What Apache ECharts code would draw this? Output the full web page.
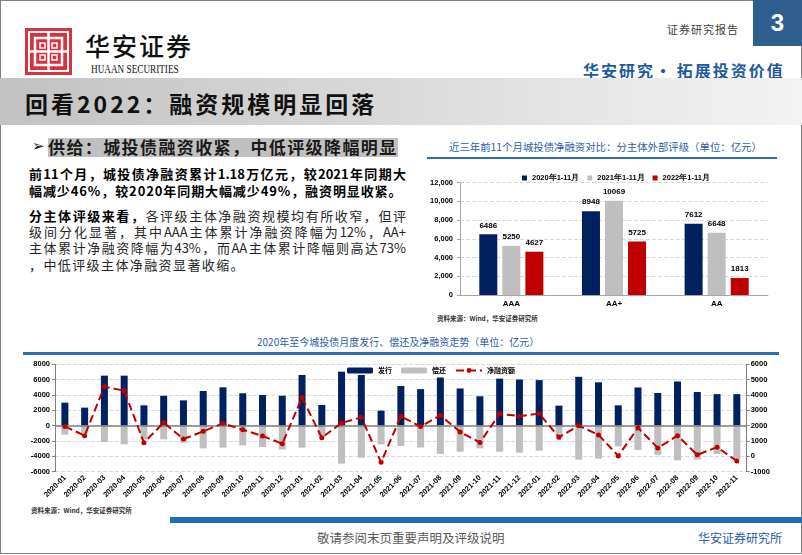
<!DOCTYPE html>
<html><head><meta charset="utf-8">
<script src="https://cdn.jsdelivr.net/npm/echarts@6/dist/echarts.min.js"></script>
<style>
html,body{margin:0;padding:0;width:802px;height:555px;overflow:hidden;background:#fff;font-family:"Noto Sans CJK SC",sans-serif;}
.abs{position:absolute;white-space:nowrap;}
.jl{position:absolute;left:29px;width:377px;text-align:justify;text-align-last:justify;white-space:nowrap;line-height:16px;}
#chart{position:absolute;left:0;top:0;width:802px;height:555px;}
</style></head><body>
<div class="abs" style="left:0;top:0;width:800px;height:552px;border:1px solid #808080;"></div>
<!-- header -->
<svg class="abs" style="left:25px;top:28px" width="47" height="47" viewBox="0 0 47 47">
  <rect x="0" y="0" width="47" height="47" fill="#D9313D"/>
  <rect x="4" y="4" width="39" height="39" fill="none" stroke="#fff" stroke-width="2"/>
  <rect x="10" y="10" width="27" height="27" fill="none" stroke="#fff" stroke-width="2.5"/>
  <line x1="23.5" y1="4" x2="23.5" y2="43" stroke="#fff" stroke-width="2.5"/>
  <line x1="4" y1="23.5" x2="43" y2="23.5" stroke="#fff" stroke-width="2.5"/>
  <rect x="15" y="15" width="5" height="5" fill="none" stroke="#fff" stroke-width="1.5"/>
  <rect x="27" y="15" width="5" height="5" fill="none" stroke="#fff" stroke-width="1.5"/>
  <rect x="15" y="27" width="5" height="5" fill="none" stroke="#fff" stroke-width="1.5"/>
  <rect x="27" y="27" width="5" height="5" fill="none" stroke="#fff" stroke-width="1.5"/>
</svg>
<div class="abs" style="left:85px;top:28px;font-size:25px;letter-spacing:2px;color:#111;font-weight:500;line-height:34px;">华安证券</div>
<div class="abs" style="left:91px;top:62px;font-family:'Liberation Serif',serif;font-size:11.5px;color:#111;transform:scaleX(0.8);transform-origin:left top;line-height:14px;">HUAAN SECURITIES</div>
<div class="abs" style="left:667px;top:21px;font-size:11px;letter-spacing:1px;color:#404040;line-height:16px;">证券研究报告</div>
<div class="abs" style="left:753px;top:0;width:49px;height:46px;background:#2F5D8E;color:#fff;font-family:'Liberation Sans',Arial;font-weight:bold;font-size:24px;line-height:46px;text-align:center;">3</div>
<div class="abs" style="left:583px;top:59px;font-size:16px;font-weight:bold;letter-spacing:2px;color:#1E5AA0;line-height:22px;">华安研究<span style="letter-spacing:0">•</span> 拓展投资价值</div>
<div class="abs" style="left:0;top:78px;width:802px;height:47px;background:linear-gradient(to right,#c2c2c2 0%,#d8d8d8 45%,#f3f3f3 100%);"></div>
<div class="abs" style="left:25px;top:88px;font-size:23px;font-weight:bold;letter-spacing:3px;color:#111;line-height:30px;">回看2022：融资规模明显回落</div>
<!-- left text -->
<div class="abs" style="left:32px;top:137px;font-family:'DejaVu Sans';font-size:15px;font-weight:bold;line-height:18px;color:#111;">➢</div>
<div class="abs" style="left:48px;top:138px;width:350px;height:19px;background:#c0c0c0;"></div>
<div class="abs" style="left:48px;top:136px;font-size:17px;font-weight:bold;letter-spacing:1.4px;color:#1a1a1a;line-height:22px;">供给：城投债融资收紧，中低评级降幅明显</div>
<div class="jl" style="top:166px;font-size:13px;font-weight:bold;color:#000;">前11个月，城投债净融资累计1.18万亿元，较2021年同期大</div>
<div class="abs" style="left:29px;top:183px;font-size:13px;font-weight:bold;color:#000;letter-spacing:0.9px;line-height:16px;">幅减少46%，较2020年同期大幅减少49%，融资明显收紧。</div>
<div class="jl" style="top:208px;font-size:13px;color:#262626;"><b style="color:#000">分主体评级来看，</b>各评级主体净融资规模均有所收窄，但评</div>
<div class="jl" style="top:224px;font-size:13px;color:#262626;">级间分化显著，其中AAA主体累计净融资降幅为12%，AA+</div>
<div class="jl" style="top:240px;font-size:13px;color:#262626;">主体累计净融资降幅为43%，而AA主体累计降幅则高达73%</div>
<div class="abs" style="left:29px;top:257px;font-size:13px;letter-spacing:1.4px;color:#262626;line-height:16px;">，中低评级主体净融资显著收缩。</div>
<!-- chart titles -->
<div class="abs" style="left:449px;top:140px;font-size:10.4px;color:#2B5EA7;line-height:14px;">近三年前11个月城投债净融资对比：分主体外部评级（单位：亿元）</div>
<div class="abs" style="left:427px;top:157px;width:350px;height:2px;background:#2E6DB4;"></div>
<div class="abs" style="left:437px;top:314px;font-size:6.5px;font-weight:bold;color:#333;line-height:9px;">资料来源：Wind，华安证券研究所</div>
<div class="abs" style="left:257px;top:335px;font-size:10px;color:#2B5EA7;line-height:14px;">2020年至今城投债月度发行、偿还及净融资走势（单位：亿元）</div>
<div class="abs" style="left:23px;top:352px;width:756px;height:2.5px;background:#2E6DB4;"></div>
<div class="abs" style="left:31px;top:506px;font-size:6.5px;font-weight:bold;color:#333;line-height:9px;">资料来源：Wind，华安证券研究所</div>
<!-- footer -->
<div class="abs" style="left:170px;top:517px;width:632px;height:6px;background:#1F6DB3;"></div>
<div class="abs" style="left:317px;top:529px;font-size:12.5px;color:#595959;line-height:18px;">敬请参阅末页重要声明及评级说明</div>
<div class="abs" style="left:698px;top:529px;font-size:12px;color:#1E5AA0;line-height:18px;">华安证券研究所</div>
<div id="chart"></div>
<script>
// ---- top chart data ----
const ratingCats = ['AAA', 'AA+', 'AA'];
const seriesNamesTop = ['2020年1-11月', '2021年1-11月', '2022年1-11月'];
const net2020 = [6486, 8948, 7612];
const net2021 = [5250, 10069, 6648];
const net2022 = [4627, 5725, 1813];
// ---- bottom chart data ----
const months = ['2020-01','2020-02','2020-03','2020-04','2020-05','2020-06','2020-07','2020-08','2020-09','2020-10','2020-11','2020-12',
  '2021-01','2021-02','2021-03','2021-04','2021-05','2021-06','2021-07','2021-08','2021-09','2021-10','2021-11','2021-12',
  '2022-01','2022-02','2022-03','2022-04','2022-05','2022-06','2022-07','2022-08','2022-09','2022-10','2022-11'];
const issuance = [3000, 2350, 6520, 6520, 2650, 3900, 3300, 4520, 5000, 4220, 4000, 3900,
  6610, 2700, 7040, 6610, 1960, 5170, 4760, 6280, 4850, 3830, 6130, 6020,
  5940, 2610, 6370, 5650, 2650, 4980, 4260, 5760, 4390, 4110, 4110];
const repayment = [-1170, -1000, -2130, -2430, -1800, -1780, -2220, -2960, -2870, -2570, -2780, -3100,
  -2870, -1500, -4960, -4170, -2430, -2650, -2850, -3680, -3390, -2960, -3390, -3520,
  -3260, -1370, -4430, -4300, -2700, -3160, -3810, -4510, -4420, -3680, -4400];
const netFinancing = [1950, 1350, 4545, 4280, 890, 2195, 1130, 1630, 2150, 1740, 1325, 825,
  3830, 1215, 2175, 2545, -390, 2610, 1945, 2670, 1595, 900, 2770, 2620,
  2790, 1250, 2000, 1400, 30, 1860, 550, 1350, 100, 600, -300];
const yTicksTop = {min: 0, max: 12000, interval: 2000};

const NAVY = '#002060', GRAY = '#BFBFBF', RED = '#C00000';
const NUMF = "'Liberation Sans', Arial, sans-serif";
const chart = echarts.init(document.getElementById('chart'), null, {renderer: 'canvas'});
const topColors = [NAVY, GRAY, RED];
const topData = [net2020, net2021, net2022];
const plain = v => String(v);

const option = {
  animation: false,
  backgroundColor: 'transparent',
  textStyle: {fontFamily: NUMF},
  grid: [
    {left: 460, top: 182.7, width: 308, height: 112.3},
    {left: 55, top: 364.3, width: 691.7, height: 107.4}
  ],
  legend: [
    {data: seriesNamesTop, left: 517, top: 169, itemWidth: 5, itemHeight: 5, itemGap: 8, icon: 'rect',
     textStyle: {fontSize: 7.5, fontWeight: 'bold', color: '#000', fontFamily: NUMF}},
    {data: ['发行', '偿还', '净融资额'], left: 342, top: 362, itemWidth: 26, itemHeight: 6, itemGap: 9,
     textStyle: {fontSize: 7, fontWeight: 'bold', color: '#000', fontFamily: "'Noto Sans CJK SC'"}}
  ],
  xAxis: [
    {type: 'category', gridIndex: 0, data: ratingCats,
     axisLine: {lineStyle: {color: '#a6a6a6'}}, axisTick: {show: false},
     axisLabel: {fontSize: 8, fontWeight: 'bold', color: '#000', margin: 5}},
    {type: 'category', gridIndex: 1, data: months,
     axisLine: {show: false, onZero: false}, axisTick: {show: false},
     axisLabel: {rotate: 45, interval: 0, fontSize: 7.5, fontWeight: 'bold', color: '#000', margin: 5}}
  ],
  yAxis: [
    {type: 'value', gridIndex: 0, min: yTicksTop.min, max: yTicksTop.max, interval: yTicksTop.interval,
     axisLine: {show: true, lineStyle: {color: '#a6a6a6'}}, axisTick: {show: true, length: 3, lineStyle: {color: '#a6a6a6'}},
     axisLabel: {fontSize: 7.5, fontWeight: 'bold', color: '#000', margin: 7,
       formatter: v => v.toLocaleString('en-US')},
     splitLine: {lineStyle: {type: 'dashed', color: '#d9d9d9'}}},
    {type: 'value', gridIndex: 1, min: -6000, max: 8000, interval: 2000,
     axisLine: {show: true, lineStyle: {color: '#808080'}}, axisTick: {show: true, length: 3, lineStyle: {color: '#808080'}},
     axisLabel: {fontSize: 7.5, fontWeight: 'bold', color: '#000', margin: 5, formatter: plain},
     splitLine: {lineStyle: {type: 'dashed', color: '#d9d9d9'}}},
    {type: 'value', gridIndex: 1, position: 'right', min: -1000, max: 6000, interval: 1000,
     axisLine: {show: true, lineStyle: {color: '#808080'}}, axisTick: {show: true, length: 3, lineStyle: {color: '#808080'}},
     axisLabel: {fontSize: 7.5, fontWeight: 'bold', color: '#000', margin: 4, formatter: plain},
     splitLine: {show: false}}
  ],
  series: [
    ...seriesNamesTop.map((n, i) => ({
      name: n, type: 'bar', xAxisIndex: 0, yAxisIndex: 0, data: topData[i],
      barWidth: 18, barGap: '28%', itemStyle: {color: topColors[i]},
      label: {show: true, position: 'top', distance: 5, fontSize: 8, fontWeight: 'bold', color: '#000', fontFamily: NUMF}
    })),
    {name: '发行', type: 'bar', xAxisIndex: 1, yAxisIndex: 1, data: issuance, barWidth: 7, barGap: '-100%',
     itemStyle: {color: NAVY},
     markLine: {silent: true, symbol: 'none', label: {show: false},
       lineStyle: {color: '#7f7f7f', type: 'solid', width: 1.5}, data: [{yAxis: 0}]}},
    {name: '偿还', type: 'bar', xAxisIndex: 1, yAxisIndex: 1, data: repayment, barWidth: 7, barGap: '-100%',
     itemStyle: {color: GRAY}},
    {name: '净融资额', type: 'line', xAxisIndex: 1, yAxisIndex: 2, data: netFinancing, z: 5,
     symbol: 'circle', symbolSize: 5, itemStyle: {color: RED},
     lineStyle: {color: RED, width: 2, type: 'dashed'}}
  ]
};
chart.setOption(option);
</script>
</body></html>
